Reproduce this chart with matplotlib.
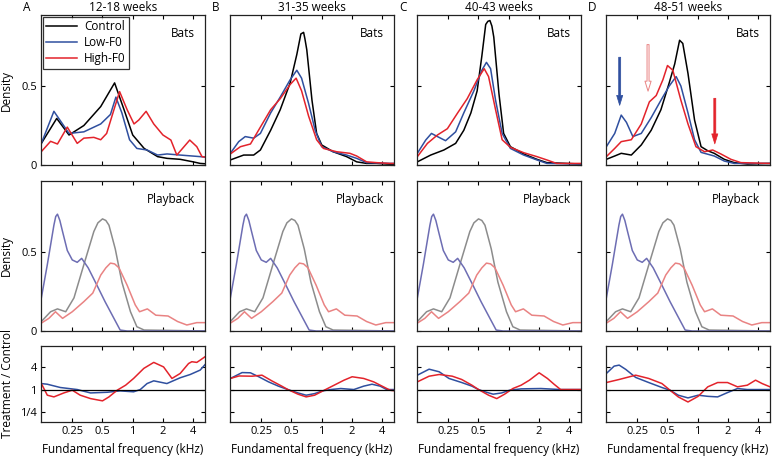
import numpy as np
import matplotlib
matplotlib.use('Agg')
import matplotlib.pyplot as plt
from matplotlib.ticker import NullLocator

plt.rcParams['font.family'] = ['Open Sans', 'DejaVu Sans']
plt.rcParams['font.size'] = 8

# column headers
titles = ['12-18 weeks', '31-35 weeks', '40-43 weeks', '48-51 weeks']
letters = ['A', 'B', 'C', 'D']

# bats density (freq kHz, density)
a_control = [(0.123, 0.137), (0.175, 0.295), (0.232, 0.19), (0.326, 0.25), (0.48, 0.37), (0.66, 0.52),
             (0.82, 0.35), (1.0, 0.19), (1.3, 0.105), (1.77, 0.053), (2.2, 0.042), (2.97, 0.036),
             (4.0, 0.02), (4.7, 0.01), (5.25, 0.008)]
a_low = [(0.123, 0.137), (0.164, 0.34), (0.232, 0.2), (0.326, 0.21), (0.48, 0.26), (0.6, 0.32), (0.68, 0.43),
         (0.78, 0.33), (0.93, 0.16), (1.1, 0.105), (1.39, 0.095), (1.77, 0.063), (2.2, 0.07), (2.97, 0.063),
         (4.7, 0.053), (5.25, 0.05)]
a_high = [(0.123, 0.085), (0.152, 0.15), (0.178, 0.133), (0.223, 0.24), (0.28, 0.137), (0.326, 0.17),
          (0.41, 0.175), (0.48, 0.16), (0.55, 0.2), (0.65, 0.35), (0.74, 0.465), (0.88, 0.35), (1.03, 0.26),
          (1.15, 0.285), (1.36, 0.34), (1.62, 0.26), (2.0, 0.19), (2.4, 0.158), (2.75, 0.063), (3.7, 0.158),
          (4.35, 0.116), (4.9, 0.053), (5.25, 0.05)]

b_control = [(0.123, 0.032), (0.167, 0.063), (0.21, 0.063), (0.245, 0.095), (0.31, 0.22), (0.386, 0.35),
             (0.485, 0.52), (0.565, 0.7), (0.62, 0.83), (0.66, 0.84), (0.68, 0.80), (0.71, 0.73), (0.80, 0.41),
             (0.89, 0.2), (1.0, 0.127), (1.3, 0.084), (1.77, 0.053), (2.23, 0.02), (2.8, 0.01), (3.5, 0.01),
             (4.77, 0.005), (5.25, 0.005)]
b_low = [(0.123, 0.074), (0.149, 0.148), (0.173, 0.18), (0.21, 0.17), (0.245, 0.2), (0.31, 0.33), (0.386, 0.43),
         (0.485, 0.54), (0.565, 0.6), (0.63, 0.55), (0.74, 0.39), (0.86, 0.22), (1.0, 0.116), (1.3, 0.084),
         (1.77, 0.063), (2.23, 0.042), (2.8, 0.015), (4.77, 0.01), (5.25, 0.01)]
b_high = [(0.123, 0.07), (0.155, 0.116), (0.195, 0.133), (0.245, 0.24), (0.31, 0.35), (0.386, 0.42),
          (0.485, 0.51), (0.556, 0.55), (0.63, 0.47), (0.74, 0.31), (0.89, 0.16), (1.04, 0.105), (1.41, 0.084),
          (1.91, 0.074), (2.23, 0.057), (2.8, 0.02), (3.5, 0.015), (4.77, 0.01), (5.25, 0.01)]

c_control = [(0.123, 0.02), (0.167, 0.063), (0.226, 0.095), (0.296, 0.137), (0.357, 0.22), (0.42, 0.33),
             (0.485, 0.47), (0.54, 0.69), (0.59, 0.89), (0.62, 0.91), (0.65, 0.915), (0.68, 0.88), (0.71, 0.81),
             (0.80, 0.45), (0.89, 0.2), (1.04, 0.116), (1.41, 0.07), (1.91, 0.036), (2.4, 0.015), (3.8, 0.01),
             (5.25, 0.006)]
c_low = [(0.123, 0.074), (0.149, 0.158), (0.17, 0.2), (0.195, 0.18), (0.235, 0.154), (0.296, 0.21),
         (0.357, 0.33), (0.45, 0.47), (0.54, 0.6), (0.60, 0.65), (0.66, 0.61), (0.74, 0.41), (0.86, 0.2),
         (1.04, 0.105), (1.41, 0.063), (1.91, 0.032), (2.4, 0.01), (5.25, 0.006)]
c_high = [(0.123, 0.053), (0.155, 0.137), (0.195, 0.19), (0.245, 0.23), (0.31, 0.33), (0.386, 0.42),
          (0.485, 0.54), (0.57, 0.61), (0.63, 0.56), (0.74, 0.35), (0.86, 0.16), (1.04, 0.112), (1.41, 0.078),
          (1.91, 0.053), (2.4, 0.032), (3.0, 0.01), (5.25, 0.01)]

d_control = [(0.123, 0.036), (0.149, 0.057), (0.173, 0.074), (0.218, 0.063), (0.274, 0.127), (0.344, 0.22),
             (0.43, 0.35), (0.52, 0.52), (0.59, 0.64), (0.66, 0.79), (0.71, 0.77), (0.80, 0.58), (0.93, 0.285),
             (1.08, 0.116), (1.26, 0.09), (1.46, 0.074), (1.84, 0.036), (2.31, 0.015), (3.13, 0.006),
             (5.25, 0.01)]
d_low = [(0.123, 0.116), (0.149, 0.2), (0.173, 0.316), (0.195, 0.27), (0.226, 0.18), (0.274, 0.2), (0.344, 0.3),
         (0.43, 0.41), (0.52, 0.5), (0.61, 0.56), (0.68, 0.5), (0.80, 0.33), (0.93, 0.16), (1.08, 0.08),
         (1.46, 0.057), (1.84, 0.025), (2.31, 0.01), (5.25, 0.01)]
d_high = [(0.123, 0.053), (0.149, 0.105), (0.173, 0.148), (0.218, 0.16), (0.274, 0.26), (0.33, 0.4),
          (0.386, 0.44), (0.45, 0.54), (0.50, 0.63), (0.565, 0.6), (0.68, 0.41), (0.80, 0.26), (0.96, 0.116),
          (1.17, 0.084), (1.41, 0.095), (1.70, 0.07), (2.14, 0.036), (2.69, 0.015), (5.25, 0.01)]

# playback density (same stimuli in every column)
pb_control = [(0.123, 0.06), (0.152, 0.122), (0.178, 0.14), (0.215, 0.122), (0.26, 0.21), (0.326, 0.42),
              (0.41, 0.63), (0.45, 0.685), (0.5, 0.71), (0.54, 0.70), (0.58, 0.67), (0.67, 0.52), (0.78, 0.31),
              (0.95, 0.122), (1.1, 0.027), (1.3, 0.006), (2.2, 0.004), (5.25, 0.0)]
pb_low = [(0.123, 0.21), (0.141, 0.42), (0.164, 0.67), (0.171, 0.725), (0.178, 0.74), (0.188, 0.70),
          (0.2, 0.63), (0.223, 0.51), (0.25, 0.45), (0.28, 0.435), (0.31, 0.46), (0.36, 0.4), (0.44, 0.29),
          (0.53, 0.186), (0.65, 0.08), (0.75, 0.006), (0.88, 0.0), (5.25, 0.0)]
pb_high = [(0.123, 0.05), (0.146, 0.08), (0.17, 0.122), (0.2, 0.08), (0.25, 0.122), (0.326, 0.186), (0.4, 0.24),
           (0.48, 0.354), (0.54, 0.40), (0.6, 0.43), (0.66, 0.425), (0.73, 0.4), (0.88, 0.29), (1.06, 0.165),
           (1.17, 0.122), (1.4, 0.14), (1.7, 0.1), (2.25, 0.095), (2.8, 0.06), (3.46, 0.038), (4.35, 0.053),
           (5.25, 0.053)]

# treatment / control ratio, log2 units
a_low_ratio = [(0.123, 0.53), (0.141, 0.47), (0.19, 0.18), (0.28, 0.0), (0.38, -0.3), (0.56, -0.24),
               (0.75, -0.12), (1.02, -0.2), (1.19, 0.0), (1.39, 0.53), (1.62, 0.77), (2.19, 0.53), (2.97, 1.04),
               (3.74, 1.33), (4.7, 1.72), (5.25, 2.2)]
a_high_ratio = [(0.123, 0.53), (0.141, -0.5), (0.164, -0.65), (0.206, -0.3), (0.25, -0.06), (0.30, -0.5),
                (0.38, -0.8), (0.50, -1.0), (0.58, -0.65), (0.70, -0.06), (0.85, 0.385), (1.02, 0.98),
                (1.29, 1.87), (1.62, 2.4), (2.03, 2.0), (2.46, 0.98), (2.97, 1.42), (3.6, 2.3), (3.88, 2.46),
                (4.35, 2.4), (4.7, 2.6), (5.25, 2.9)]
b_low_ratio = [(0.123, 0.98), (0.161, 1.5), (0.195, 1.48), (0.236, 1.13), (0.295, 0.68), (0.37, 0.3),
               (0.46, 0.0), (0.58, -0.3), (0.70, -0.5), (0.85, -0.36), (1.02, -0.12), (1.23, 0.0), (1.55, 0.09),
               (2.09, 0.0), (2.62, 0.3), (3.17, 0.47), (3.82, 0.3), (4.44, 0.0), (5.25, 0.0)]
b_high_ratio = [(0.123, 0.98), (0.15, 1.2), (0.203, 1.18), (0.254, 1.27), (0.318, 0.77), (0.40, 0.3),
                (0.46, 0.0), (0.58, -0.41), (0.70, -0.65), (0.85, -0.5), (1.06, -0.06), (1.33, 0.385),
                (1.67, 0.83), (2.01, 1.13), (2.62, 0.98), (3.29, 0.68), (4.12, 0.24), (4.8, -0.06), (5.25, -0.1)]
c_low_ratio = [(0.123, 1.27), (0.161, 1.8), (0.203, 1.57), (0.254, 0.98), (0.34, 0.62), (0.43, 0.3),
               (0.50, 0.0), (0.58, -0.2), (0.70, -0.41), (0.85, -0.3), (1.02, -0.06), (1.33, 0.06),
               (2.09, 0.09), (2.83, 0.03), (3.29, 0.0), (5.25, 0.0)]
c_high_ratio = [(0.123, 0.68), (0.161, 1.18), (0.203, 1.33), (0.274, 1.18), (0.34, 0.89), (0.43, 0.385),
                (0.50, 0.0), (0.63, -0.5), (0.76, -0.8), (0.91, -0.41), (1.10, 0.09), (1.33, 0.385),
                (1.61, 0.83), (2.01, 1.48), (2.43, 0.98), (2.83, 0.47), (3.29, 0.0), (5.25, 0.0)]
d_low_ratio = [(0.123, 1.42), (0.147, 2.07), (0.165, 2.16), (0.192, 1.78), (0.241, 1.07), (0.325, 0.62),
               (0.44, 0.18), (0.53, -0.06), (0.64, -0.5), (0.80, -0.74), (1.01, -0.5), (1.26, -0.6),
               (1.58, -0.65), (1.98, -0.27), (2.49, 0.09), (3.12, 0.0), (5.25, 0.0)]
d_high_ratio = [(0.123, 0.62), (0.165, 0.89), (0.241, 1.27), (0.325, 0.98), (0.44, 0.53), (0.53, -0.06),
                (0.64, -0.65), (0.80, -1.1), (1.01, -0.6), (1.26, 0.24), (1.58, 0.62), (1.98, 0.62),
                (2.49, 0.24), (3.12, 0.385), (3.77, 0.83), (4.38, 0.53), (5.25, 0.24)]

# arrows in panel D: (freq, y_start, y_end)
arrow_low = (0.167, 0.70, 0.36)
arrow_high_open = (0.32, 0.78, 0.45)
arrow_high = (1.48, 0.44, 0.116)

bats = [(a_control, a_low, a_high), (b_control, b_low, b_high),
        (c_control, c_low, c_high), (d_control, d_low, d_high)]
ratios = [(a_low_ratio, a_high_ratio), (b_low_ratio, b_high_ratio),
          (c_low_ratio, c_high_ratio), (d_low_ratio, d_high_ratio)]

c_black, c_blue, c_red = '#000000', '#2f4f9f', '#e3232b'
p_gray, p_blue, p_red = '#8c8c8c', '#6d6db3', '#e98383'

W, H = 772, 462
fig = plt.figure(figsize=(W / 100, H / 100), dpi=100)

lefts = [41, 230, 417, 606]
pw = 164
rows = [(15, 165), (181, 331), (346, 422)]

xticks = [0.25, 0.5, 1, 2, 4]
xlabels = ['0.25', '0.5', '1', '2', '4']


def xy(pairs):
    a = np.array(pairs)
    return a[:, 0], a[:, 1]


def style(ax):
    ax.set_xscale('log')
    ax.set_xlim(0.122, 5.25)
    ax.set_xticks(xticks)
    ax.xaxis.set_minor_locator(NullLocator())
    ax.tick_params(direction='in', length=3, width=0.8, top=True, right=True, labelsize=8, pad=3)
    for s in ax.spines.values():
        s.set_linewidth(0.9)
        s.set_color('#222222')


lw = 1.1
for i in range(4):
    axes = []
    for (top, bot) in rows:
        ax = fig.add_axes([lefts[i] / W, 1 - bot / H, pw / W, (bot - top) / H])
        style(ax)
        axes.append(ax)
    ax1, ax2, ax3 = axes

    # bats
    ctrl, low, high = bats[i]
    ax1.plot(*xy(ctrl), color=c_black, lw=lw, label='Control')
    ax1.plot(*xy(low), color=c_blue, lw=lw, label='Low-F0')
    ax1.plot(*xy(high), color=c_red, lw=lw, label='High-F0')
    ax1.set_ylim(0, 0.95)
    ax1.set_yticks([0, 0.5])
    ax1.set_xticklabels([])
    ax1.text(0.94, 0.88, 'Bats', transform=ax1.transAxes, ha='right', va='center', fontsize=8.5)
    ax1.text(0.5, 1.052, titles[i], transform=ax1.transAxes, ha='center', va='center', fontsize=8.5)
    ax1.text(-0.085, 1.052, letters[i], transform=ax1.transAxes, ha='center', va='center', fontsize=8.5)

    # playback
    ax2.plot(*xy(pb_control), color=p_gray, lw=lw)
    ax2.plot(*xy(pb_low), color=p_blue, lw=lw)
    ax2.plot(*xy(pb_high), color=p_red, lw=lw)
    ax2.set_ylim(0, 0.95)
    ax2.set_yticks([0, 0.5])
    ax2.set_xticklabels([])
    ax2.text(0.94, 0.88, 'Playback', transform=ax2.transAxes, ha='right', va='center', fontsize=8.5)

    # ratio
    lo_r, hi_r = ratios[i]
    f, v = xy(lo_r)
    ax3.plot(f, 2.0 ** v, color=c_blue, lw=lw)
    f, v = xy(hi_r)
    ax3.plot(f, 2.0 ** v, color=c_red, lw=lw)
    ax3.axhline(1, color='black', lw=0.9)
    ax3.set_yscale('log', base=2)
    ax3.set_ylim(2 ** -2.87, 2 ** 3.85)
    ax3.set_yticks([0.25, 1, 4])
    ax3.yaxis.set_minor_locator(NullLocator())
    ax3.set_xticklabels(xlabels)
    ax3.set_xlabel('Fundamental frequency (kHz)', fontsize=8.5, labelpad=4)

    if i == 0:
        ax1.set_yticklabels(['0', '0.5'])
        ax2.set_yticklabels(['0', '0.5'])
        ax3.set_yticklabels(['1/4', '1', '4'])
        ax1.set_ylabel('Density', fontsize=8.5, labelpad=6)
        ax2.set_ylabel('Density', fontsize=8.5, labelpad=6)
        ax3.set_ylabel('Treatment / Control', fontsize=8.5, labelpad=4)
        leg = ax1.legend(loc='upper left', bbox_to_anchor=(0.0, 1.0), fontsize=8.5, frameon=True,
                         fancybox=False, edgecolor='black', handlelength=2.6, borderpad=0.3,
                         labelspacing=0.25, handletextpad=0.6, borderaxespad=0.15)
        leg.get_frame().set_linewidth(0.9)
    else:
        ax1.set_yticklabels([])
        ax2.set_yticklabels([])
        ax3.set_yticklabels([])

    if i == 3:
        x, y0, y1 = arrow_low
        ax1.annotate('', xy=(x, y1), xytext=(x, y0),
                     arrowprops=dict(arrowstyle='simple,head_width=0.55,head_length=0.9,tail_width=0.18',
                                     fc=c_blue, ec=c_blue, lw=0.5))
        x, y0, y1 = arrow_high_open
        ax1.annotate('', xy=(x, y1), xytext=(x, y0),
                     arrowprops=dict(arrowstyle='simple,head_width=0.55,head_length=0.9,tail_width=0.18',
                                     fc='white', ec=p_red, lw=0.7))
        x, y0, y1 = arrow_high
        ax1.annotate('', xy=(x, y1), xytext=(x, y0),
                     arrowprops=dict(arrowstyle='simple,head_width=0.55,head_length=0.9,tail_width=0.18',
                                     fc=c_red, ec=c_red, lw=0.5))

fig.savefig('out.png', dpi=100)
